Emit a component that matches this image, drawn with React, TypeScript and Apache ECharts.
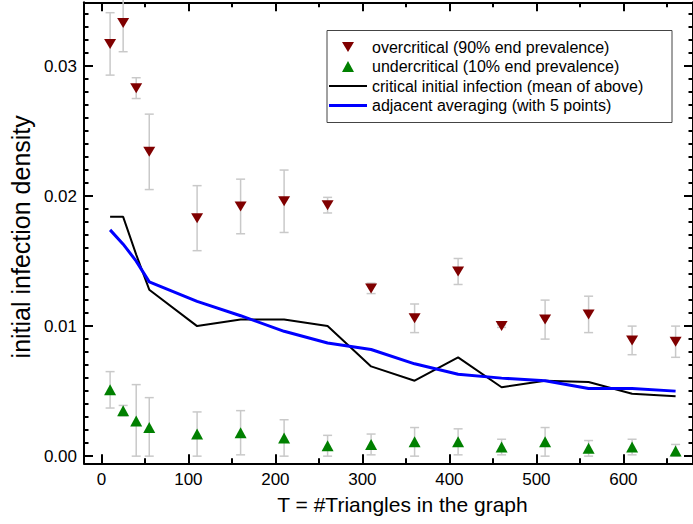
import { useEffect, useRef } from "react";
import * as echarts from "echarts";

// Number of triangles T in the graph (x positions of every measurement)
const triangles = [10, 25, 40, 55, 110, 160, 210, 260, 310, 360, 410, 460, 510, 560, 610, 660];

// Initial infection density giving 90% end prevalence, with its spread
const overcritical = [0.0317, 0.0333, 0.0283, 0.0234, 0.0183, 0.0192, 0.0196, 0.0193, 0.0129, 0.0106, 0.0142, 0.0100, 0.0105, 0.0109, 0.0089, 0.0088];
const overcriticalErr = [0.0024, 0.0022, 0.0008, 0.0029, 0.0025, 0.0021, 0.0024, 0.0006, 0.0004, 0.0011, 0.0010, 0.0001, 0.0015, 0.0014, 0.0011, 0.0012];

// Initial infection density giving 10% end prevalence, with its spread
const undercritical = [0.0051, 0.0035, 0.0027, 0.0022, 0.0017, 0.0018, 0.0014, 0.0008, 0.0009, 0.0011, 0.0011, 0.0007, 0.0011, 0.0006, 0.0007, 0.0004];
const undercriticalErr = [0.0014, 0.0004, 0.0028, 0.0023, 0.0017, 0.0017, 0.0014, 0.0008, 0.0008, 0.0011, 0.0010, 0.0006, 0.0011, 0.0006, 0.0006, 0.0005];

// Critical initial infection (mean of the two series above)
const critical = [0.0184, 0.0184, 0.0155, 0.0128, 0.0100, 0.0105, 0.0105, 0.0100, 0.0069, 0.0058, 0.0076, 0.0053, 0.0058, 0.0057, 0.0048, 0.0046];

// Adjacent averaging of the critical curve over 5 points
const adjacentAvg = [0.0174, 0.0163, 0.0150, 0.0134, 0.0119, 0.0108, 0.0096, 0.0087, 0.0082, 0.0071, 0.0063, 0.0060, 0.0058, 0.0052, 0.0052, 0.0050];

// Tick positions
const xMajorTicks = [0, 100, 200, 300, 400, 500, 600];
const xMinorTicks = [50, 150, 250, 350, 450, 550, 650];
const yMajorTicks = [0, 0.01, 0.02, 0.03];
const yMinorTicks = [
  0.001, 0.002, 0.003, 0.004, 0.005, 0.006, 0.007, 0.008, 0.009,
  0.011, 0.012, 0.013, 0.014, 0.015, 0.016, 0.017, 0.018, 0.019,
  0.021, 0.022, 0.023, 0.024, 0.025, 0.026, 0.027, 0.028, 0.029,
  0.031, 0.032, 0.033, 0.034,
];

const NAMES = {
  over: "overcritical (90% end prevalence)",
  under: "undercritical (10% end prevalence)",
  crit: "critical initial infection (mean of above)",
  avg: "adjacent averaging (with 5 points)",
};

const COLORS = { over: "#800000", under: "#008000", crit: "#000000", avg: "#0000ff" };

const FONT = "'Liberation Sans', Arial, Helvetica, sans-serif";
const X_MIN = -20;
const X_MAX = 680;
const Y_MIN = -0.00055;
const Y_MAX = 0.0349;

function errorRows(values: number[], errs: number[]) {
  return triangles.map((t, i) => [t, Math.max(0, values[i] - errs[i]), values[i] + errs[i]]);
}

function pairs(values: number[]) {
  return triangles.map((t, i) => [t, values[i]]);
}

const axisStroke = { color: "#000", width: 2 };

function xAxisDef(position: "top" | "bottom", ticks: number[], len: number, main: boolean) {
  return {
    type: "value",
    position,
    min: X_MIN,
    max: X_MAX,
    axisLine: { show: main, onZero: false, lineStyle: axisStroke },
    axisTick: { show: true, inside: true, length: len, customValues: ticks, lineStyle: axisStroke },
    axisLabel: main && position === "bottom"
      ? { show: true, customValues: xMajorTicks, fontSize: 17, color: "#000", fontFamily: FONT, margin: 8 }
      : { show: false },
    splitLine: { show: false },
  };
}

function yAxisDef(position: "left" | "right", ticks: number[], len: number, main: boolean) {
  return {
    type: "value",
    position,
    min: Y_MIN,
    max: Y_MAX,
    axisLine: { show: main, onZero: false, lineStyle: axisStroke },
    axisTick: { show: true, inside: true, length: len, customValues: ticks, lineStyle: axisStroke },
    axisLabel: main && position === "left"
      ? {
          show: true,
          customValues: yMajorTicks,
          fontSize: 17,
          color: "#000",
          fontFamily: FONT,
          margin: 7,
          formatter: (v: number) => v.toFixed(2),
        }
      : { show: false },
    splitLine: { show: false },
  };
}

function errorBarSeries(name: string, rows: number[][]) {
  return {
    type: "custom",
    name,
    xAxisIndex: 0,
    yAxisIndex: 0,
    z: 1,
    data: rows,
    encode: { x: 0, y: [1, 2] },
    renderItem: (_params: any, api: any) => {
      const x = api.value(0);
      const lo = api.coord([x, api.value(1)]);
      const hi = api.coord([x, api.value(2)]);
      const cap = 4.5;
      const style = { stroke: "#c9c9c9", lineWidth: 1.5, fill: "none" };
      return {
        type: "group",
        children: [
          { type: "line", shape: { x1: lo[0], y1: lo[1], x2: hi[0], y2: hi[1] }, style },
          { type: "line", shape: { x1: lo[0] - cap, y1: lo[1], x2: lo[0] + cap, y2: lo[1] }, style },
          { type: "line", shape: { x1: hi[0] - cap, y1: hi[1], x2: hi[0] + cap, y2: hi[1] }, style },
        ],
      };
    },
  };
}

// Framed legend box: symbol/line key on the left, description on the right
function legendGraphic() {
  const boxX = 327;
  const boxY = 30.5;
  const rowY = [47, 66.5, 86, 105.5];
  const keyL = 329;
  const keyR = 367;
  const keyC = (keyL + keyR) / 2;
  const textX = 372;
  const label = (text: string, y: number) => ({
    type: "text",
    z: 11,
    x: textX,
    y,
    style: { text, fontSize: 16, fontFamily: FONT, fill: "#000", verticalAlign: "middle", align: "left" },
  });
  return [
    {
      type: "rect",
      z: 10,
      shape: { x: boxX, y: boxY, width: 345, height: 92 },
      style: { fill: "#fff", stroke: "#444", lineWidth: 1 },
    },
    {
      type: "polygon",
      z: 11,
      shape: { points: [[keyC - 6, rowY[0] - 5], [keyC + 6, rowY[0] - 5], [keyC, rowY[0] + 5]] },
      style: { fill: COLORS.over },
    },
    {
      type: "polygon",
      z: 11,
      shape: { points: [[keyC - 6, rowY[1] + 5.5], [keyC + 6, rowY[1] + 5.5], [keyC, rowY[1] - 5.5]] },
      style: { fill: COLORS.under },
    },
    {
      type: "line",
      z: 11,
      shape: { x1: keyL, y1: rowY[2], x2: keyR, y2: rowY[2] },
      style: { stroke: COLORS.crit, lineWidth: 2 },
    },
    {
      type: "line",
      z: 11,
      shape: { x1: keyL, y1: rowY[3], x2: keyR, y2: rowY[3] },
      style: { stroke: COLORS.avg, lineWidth: 3 },
    },
    label(NAMES.over, rowY[0]),
    label(NAMES.under, rowY[1]),
    label(NAMES.crit, rowY[2]),
    label(NAMES.avg, rowY[3]),
  ];
}

export default function App() {
  const ref = useRef<HTMLDivElement>(null);

  useEffect(() => {
    if (!ref.current) return;
    const chart = echarts.init(ref.current, undefined, { renderer: "svg" });

    const xName = {
      name: "T = #Triangles in the graph",
      nameLocation: "middle",
      nameGap: 31,
      nameTextStyle: { fontSize: 21, color: "#000", fontFamily: FONT, padding: [0, 0, 0, 28] },
    };
    const yName = {
      name: "initial infection density",
      nameLocation: "middle",
      nameGap: 51,
      nameTextStyle: { fontSize: 25, color: "#000", fontFamily: FONT, padding: [0, 8, 0, 0] },
    };

    chart.setOption({
      animation: false,
      backgroundColor: "#fff",
      textStyle: { fontFamily: FONT },
      grid: { left: 82.3, top: 2.3, right: -8.4, bottom: 60.7, containLabel: false },
      xAxis: [
        { ...xAxisDef("bottom", xMajorTicks, 9, true), ...xName },
        xAxisDef("bottom", xMinorTicks, 5, false),
        xAxisDef("top", xMajorTicks, 9, true),
        xAxisDef("top", xMinorTicks, 5, false),
      ],
      yAxis: [
        { ...yAxisDef("left", yMajorTicks, 9, true), ...yName },
        yAxisDef("left", yMinorTicks, 4.5, false),
        yAxisDef("right", yMajorTicks, 9, true),
        yAxisDef("right", yMinorTicks, 4.5, false),
      ],
      graphic: legendGraphic(),
      series: [
        errorBarSeries("overcritical spread", errorRows(overcritical, overcriticalErr)),
        errorBarSeries("undercritical spread", errorRows(undercritical, undercriticalErr)),
        {
          type: "line",
          name: NAMES.crit,
          data: pairs(critical),
          showSymbol: false,
          symbol: "none",
          lineStyle: { color: COLORS.crit, width: 2 },
          itemStyle: { color: COLORS.crit },
          z: 2,
        },
        {
          type: "line",
          name: NAMES.avg,
          data: pairs(adjacentAvg),
          showSymbol: false,
          symbol: "none",
          lineStyle: { color: COLORS.avg, width: 3 },
          itemStyle: { color: COLORS.avg },
          z: 3,
        },
        {
          type: "scatter",
          name: NAMES.over,
          data: pairs(overcritical),
          symbol: "triangle",
          symbolRotate: 180,
          symbolSize: [12, 10],
          itemStyle: { color: COLORS.over, opacity: 1 },
          z: 4,
        },
        {
          type: "scatter",
          name: NAMES.under,
          data: pairs(undercritical),
          symbol: "triangle",
          symbolSize: [12, 11],
          itemStyle: { color: COLORS.under, opacity: 1 },
          z: 4,
        },
      ],
    });

    return () => chart.dispose();
  }, []);

  return (
    <div
      ref={ref}
      style={{ position: "fixed", left: 0, top: 0, width: 693, height: 524, background: "#fff" }}
    />
  );
}
